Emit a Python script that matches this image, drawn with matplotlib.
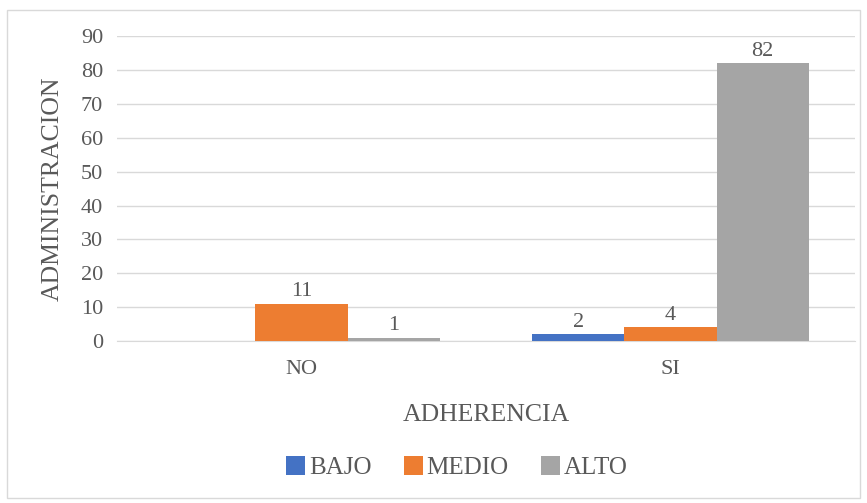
import matplotlib
matplotlib.use("Agg")
import matplotlib.pyplot as plt
import numpy as np
from matplotlib.patches import Rectangle

categories = ["NO", "SI"]
series_names = ["BAJO", "MEDIO", "ALTO"]
bajo = [np.nan, 2]
medio = [11, 4]
alto = [1, 82]
colors = ["#4472C4", "#ED7D31", "#A5A5A5"]
yticks = [0, 10, 20, 30, 40, 50, 60, 70, 80, 90]

plt.rcParams['font.family'] = ['Liberation Serif', 'DejaVu Serif']
txt = "#595959"

fig = plt.figure(figsize=(8.67, 5.03), dpi=100)
ax = fig.add_axes([0.135, 0.322, 0.851, 0.606])
fig.patches.append(Rectangle((0.008, 0.01), 0.984, 0.97, transform=fig.transFigure,
                             fill=False, edgecolor="#D9D9D9", linewidth=1))

x = np.arange(len(categories))
w = 0.25
for i, (vals, name, c) in enumerate(zip([bajo, medio, alto], series_names, colors)):
    pos = x + (i - 1) * w
    ax.bar(pos, vals, width=w, color=c, label=name, zorder=3)
    for p, v in zip(pos, vals):
        if not np.isnan(v):
            ax.text(p, v + 0.8, f"{v:g}", ha="center", va="bottom", fontsize=16, color=txt)

ax.set_xlim(-0.5, 1.5)
ax.set_ylim(0, 90)
ax.set_yticks(yticks)
ax.set_xticks(x)
ax.set_xticklabels(categories)
ax.tick_params(axis="both", length=0, labelsize=16, labelcolor=txt)
ax.tick_params(axis="x", pad=14)
ax.tick_params(axis="y", pad=10)
ax.grid(axis="y", color="#D9D9D9", linewidth=1, zorder=0)
for s in ["top", "right", "left"]:
    ax.spines[s].set_visible(False)
ax.spines["bottom"].set_color("#D9D9D9")

ax.set_ylabel("ADMINISTRACION", fontsize=18.5, color=txt, labelpad=12)
ax.set_xlabel("ADHERENCIA", fontsize=18.5, color=txt, labelpad=18)

fig.legend(loc="center", bbox_to_anchor=(0.527, 0.07), ncol=3, frameon=False,
           fontsize=18, handlelength=0.75, handleheight=0.75, handletextpad=0.15,
           columnspacing=1.3, labelcolor=txt)

fig.savefig("out.png", dpi=100)
